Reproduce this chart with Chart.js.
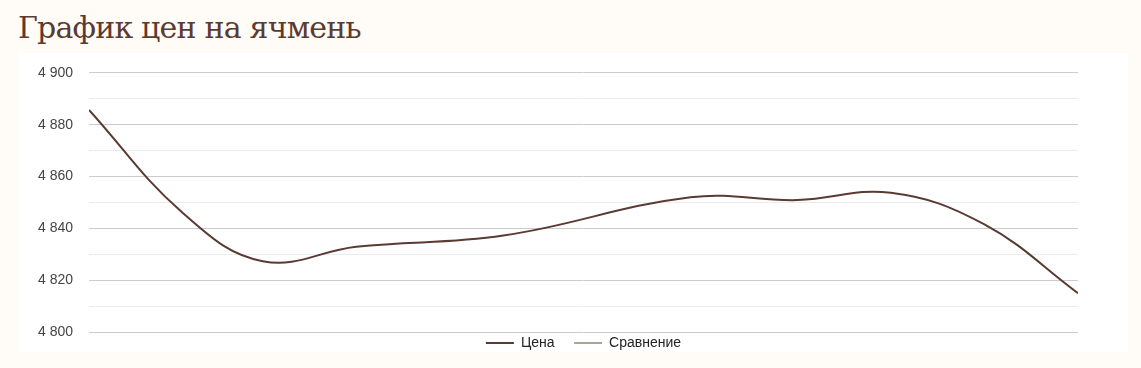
<!DOCTYPE html>
<html lang="ru">
<head>
<meta charset="utf-8">
<script src="https://cdn.jsdelivr.net/npm/chart.js@4"></script>
<style>
  html, body { margin: 0; padding: 0; background: #fffbf7; width: 1141px; height: 368px; overflow: hidden; }
  h1 { position: absolute; left: 18px; top: 10px; margin: 0; font-family: "DejaVu Serif", serif; font-weight: normal; font-size: 30px; line-height: 36px; color: #5b3a2f; letter-spacing: -0.8px; }
  #box { position: absolute; left: 18px; top: 53px; width: 1110px; height: 299px; background: #ffffff; }
  canvas { display: block; position: absolute; left: 0; top: 0; }
</style>
</head>
<body>
<h1>График цен на ячмень</h1>
<div id="box"><canvas id="c" width="1110" height="307"></canvas></div>
<script>
// x = day offset from the first observation
const dayOffsets = [0, 7, 13, 20, 31, 45, 53, 60, 67, 74];
const priceValues = [4885.7, 4846, 4827.3, 4832.9, 4837.2, 4852, 4850.9, 4853.7, 4841.5, 4815];
const compareValues = [];
const seriesNames = ["Цена", "Сравнение"];
const yMin = 4800, yMax = 4900, yStep = 10, yLabelStep = 20;

function fmt(v) {
  const s = String(Math.round(v));
  return s.replace(/\B(?=(\d{3})+(?!\d))/g, " ");
}

const legendGap = "\u00A0\u00A0\u00A0\u00A0";
const pricePoints = dayOffsets.map((d, i) => ({ x: d, y: priceValues[i] }));

new Chart(document.getElementById("c"), {
  type: "line",
  data: {
    datasets: [
      { label: seriesNames[0], data: pricePoints, borderColor: "#5a3a32", backgroundColor: "#5a3a32", borderWidth: 2, pointRadius: 0, tension: 0.4, fill: false },
      { label: seriesNames[1], data: compareValues, borderColor: "#a6a794", backgroundColor: "#a6a794", borderWidth: 2, pointRadius: 0, tension: 0.4, fill: false }
    ]
  },
  options: {
    responsive: false,
    animation: false,
    layout: { padding: { top: 0, right: 50, left: 0, bottom: 0 } },
    plugins: {
      tooltip: { enabled: false },
      legend: {
        position: "bottom",
        fullSize: false,
        labels: {
          boxWidth: 28, boxHeight: 2, padding: 4,
          color: "#222222",
          font: { family: "'Liberation Sans', Arial, sans-serif", size: 14 },
          generateLabels(chart) {
            const n = chart.data.datasets.length;
            return chart.data.datasets.map((d, i) => ({
              text: d.label + (i < n - 1 ? legendGap : ""), fillStyle: d.borderColor, strokeStyle: d.borderColor, lineWidth: 0, datasetIndex: i, hidden: false, fontColor: "#222222"
            }));
          }
        }
      }
    },
    scales: {
      x: { type: "linear", display: false, min: dayOffsets[0], max: dayOffsets[dayOffsets.length - 1] },
      y: {
        min: yMin, max: yMax,
        afterFit(scale) { scale.width = 71; },
        border: { display: false },
        grid: {
          drawTicks: false,
          color: (ctx) => (ctx.tick && ctx.tick.value % yLabelStep === 0) ? "#cccccc" : "#ebebeb",
          lineWidth: 1
        },
        ticks: {
          stepSize: yStep,
          padding: 16,
          color: "#444444",
          font: { family: "'Liberation Sans', Arial, sans-serif", size: 14, lineHeight: 0.55 },
          callback: (v) => (v % yLabelStep === 0) ? fmt(v) : ""
        }
      }
    }
  }
});
</script>
</body>
</html>
